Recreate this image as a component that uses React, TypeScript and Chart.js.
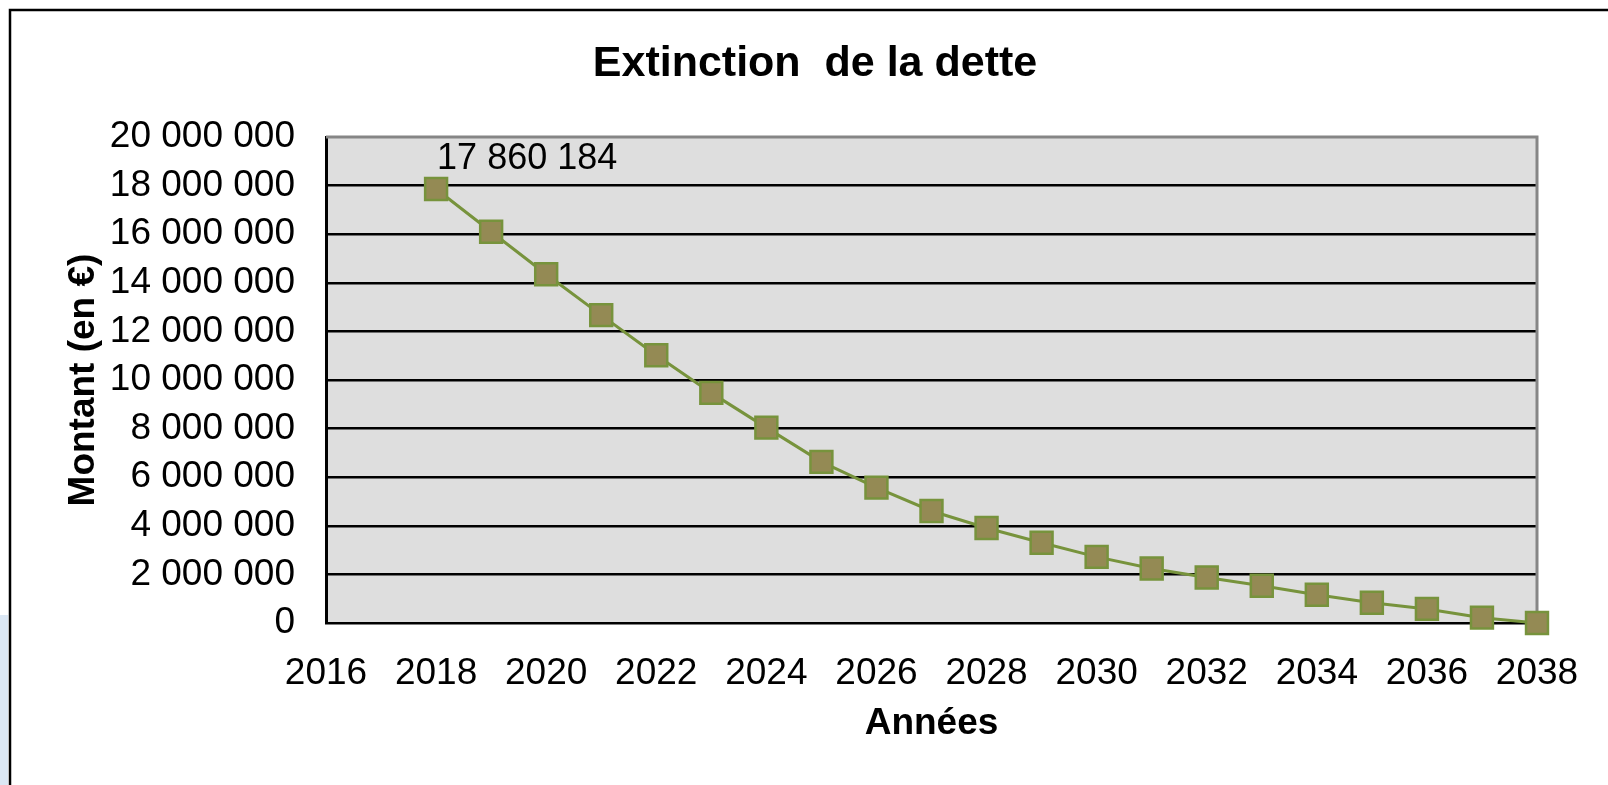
import React, { useEffect, useRef } from 'react';
import { Chart, registerables } from 'chart.js';

Chart.register(...registerables);

const chartTitle = 'Extinction  de la dette';
const yAxisTitle = 'Montant (en €)';
const xAxisTitle = 'Années';

const years = [2018, 2019, 2020, 2021, 2022, 2023, 2024, 2025, 2026, 2027, 2028, 2029, 2030, 2031, 2032, 2033, 2034, 2035, 2036, 2037, 2038];
const debt = [17860184, 16100000, 14350000, 12670000, 11020000, 9470000, 8040000, 6630000, 5570000, 4610000, 3910000, 3300000, 2720000, 2240000, 1870000, 1530000, 1160000, 830000, 580000, 220000, 0];

const xMin = 2016;
const xMax = 2038;
const xStep = 2;
const yMin = 0;
const yMax = 20000000;
const yStep = 2000000;

const labelledIndex = 0;

const FONT = '"Liberation Sans", Arial, sans-serif';

const fmt = (v: number) => Math.round(v).toString().replace(/\B(?=(\d{3})+(?!\d))/g, ' ');

export default function App() {
  const ref = useRef<HTMLCanvasElement | null>(null);

  useEffect(() => {
    const canvas = ref.current;
    if (!canvas) return;

    const decor = {
      id: 'decor',
      beforeDraw(chart: any) {
        const { ctx, chartArea: a } = chart;
        ctx.save();
        ctx.fillStyle = '#ffffff';
        ctx.fillRect(0, 0, chart.width, chart.height);
        ctx.fillStyle = '#dbe7f4';
        ctx.fillRect(0, 615, 8, chart.height - 615);
        ctx.strokeStyle = '#000000';
        ctx.lineWidth = 2.5;
        ctx.beginPath();
        ctx.moveTo(10, chart.height);
        ctx.lineTo(10, 10);
        ctx.lineTo(chart.width, 10);
        ctx.stroke();
        ctx.fillStyle = '#DEDEDE';
        ctx.fillRect(a.left, a.top, a.right - a.left, a.bottom - a.top);
        ctx.restore();
      },
      beforeDatasetsDraw(chart: any) {
        const { ctx, chartArea: a } = chart;
        ctx.save();
        ctx.strokeStyle = '#868686';
        ctx.lineWidth = 3;
        ctx.beginPath();
        ctx.moveTo(a.left, a.top);
        ctx.lineTo(a.right, a.top);
        ctx.lineTo(a.right, a.bottom);
        ctx.stroke();
        ctx.restore();
      },
      afterDraw(chart: any) {
        const { ctx } = chart;
        ctx.save();
        ctx.fillStyle = '#000000';
        ctx.font = 'bold 43px ' + FONT;
        ctx.textAlign = 'center';
        ctx.textBaseline = 'middle';
        ctx.fillText(chartTitle, 815, 64);
        const pt = chart.getDatasetMeta(0).data[labelledIndex];
        if (pt) {
          ctx.font = '36px ' + FONT;
          ctx.textAlign = 'left';
          ctx.fillText(fmt(debt[labelledIndex]), pt.x + 1, pt.y - 30);
        }
        ctx.restore();
      },
    };

    const chart = new Chart(canvas, {
      type: 'line',
      data: {
        datasets: [
          {
            label: 'Dette',
            data: years.map((y, i) => ({ x: y, y: debt[i] })),
            borderColor: '#77933C',
            borderWidth: 3,
            backgroundColor: '#948A54',
            pointStyle: 'rect',
            pointRadius: 15.5,
            pointHoverRadius: 15.5,
            pointBackgroundColor: '#948A54',
            pointBorderColor: '#77933C',
            pointBorderWidth: 2.5,
            tension: 0,
            clip: false as any,
          },
        ],
      },
      options: {
        animation: false,
        responsive: false,
        devicePixelRatio: 1,
        layout: { padding: { top: 137, left: 10, right: 71, bottom: 0 } },
        plugins: {
          legend: { display: false },
          title: { display: false },
          tooltip: { enabled: false },
        },
        scales: {
          x: {
            type: 'linear',
            min: xMin,
            max: xMax,
            grid: { display: false, drawTicks: false },
            border: { display: false },
            ticks: {
              stepSize: xStep,
              autoSkip: false,
              maxRotation: 0,
              padding: 29,
              color: '#000',
              font: { family: FONT, size: 37 },
              callback: (v: any) => String(v),
            },
            title: {
              display: true,
              text: xAxisTitle,
              color: '#000',
              font: { family: FONT, size: 37, weight: 'bold' },
              padding: { top: 0, bottom: 39 },
            },
            afterFit: (s: any) => {
              s.height = 162;
            },
          },
          y: {
            type: 'linear',
            min: yMin,
            max: yMax,
            grid: {
              drawTicks: false,
              lineWidth: 2.5,
              color: (c: any) => (c.tick && c.tick.value === yMax ? 'rgba(0,0,0,0)' : '#000000'),
            },
            border: { display: true, color: '#000000', width: 3 },
            ticks: {
              stepSize: yStep,
              padding: 31,
              color: '#000',
              font: { family: FONT, size: 37 },
              callback: (v: any) => fmt(Number(v)),
            },
            title: {
              display: true,
              text: yAxisTitle,
              color: '#000',
              font: { family: FONT, size: 37, weight: 'bold' },
              padding: { top: 52, bottom: 0 },
            },
            afterFit: (s: any) => {
              s.width = 316;
            },
          },
        },
      } as any,
      plugins: [decor],
    });

    return () => chart.destroy();
  }, []);

  return (
    <div style={{ position: 'fixed', left: 0, top: 0, width: 1608, height: 785, background: '#fff' }}>
      <canvas ref={ref} width={1608} height={785} style={{ display: 'block', width: 1608, height: 785 }} />
    </div>
  );
}
